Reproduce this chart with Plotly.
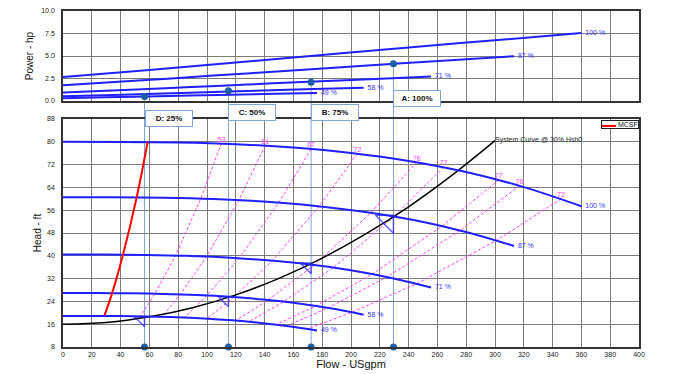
import plotly.graph_objects as go

# ------------------------------------------------------------------ data
speed_labels = ["100 %", "87 %", "71 %", "58 %", "49 %"]

# Head curves (flow USgpm, head ft)
flow_100 = [0, 40, 80, 120, 160, 200, 240, 280, 320, 360]
head_100 = [80.0, 79.97, 79.75, 79.16, 78.0, 76.1, 73.3, 69.4, 64.1, 57.4]
flow_87 = [0, 34.8, 69.6, 104.4, 139.2, 174.0, 208.8, 243.6, 278.4, 313.2]
head_87 = [60.55, 60.53, 60.36, 59.92, 59.04, 57.6, 55.48, 52.53, 48.52, 43.45]
flow_71 = [0, 28.4, 56.8, 85.2, 113.6, 142.0, 170.4, 198.8, 227.2, 255.6]
head_71 = [40.5, 40.45, 40.3, 40.0, 39.4, 38.4, 37.0, 35.0, 32.3, 28.9]
flow_58 = [0, 23.2, 46.4, 69.6, 92.8, 116.0, 139.2, 162.4, 185.6, 208.8]
head_58 = [26.95, 26.93, 26.85, 26.63, 26.24, 25.6, 24.66, 23.35, 21.56, 19.31]
flow_49 = [0, 19.6, 39.2, 58.8, 78.4, 98.0, 117.6, 137.2, 156.8, 176.4]
head_49 = [18.9, 18.9, 18.85, 18.7, 18.45, 18.0, 17.35, 16.45, 15.25, 13.8]

# Power curves (flow USgpm, power hp)
pflow_100 = [0, 60, 120, 180, 240, 300, 360]
power_100 = [2.66, 3.45, 4.28, 5.12, 5.95, 6.75, 7.56]
pflow_87 = [0, 52.2, 104.4, 156.6, 208.8, 261.0, 313.2]
power_87 = [1.75, 2.27, 2.82, 3.37, 3.92, 4.44, 4.98]
pflow_71 = [0, 42.6, 85.2, 127.8, 170.4, 213.0, 255.6]
power_71 = [0.95, 1.23, 1.53, 1.83, 2.13, 2.42, 2.71]
pflow_58 = [0, 34.8, 69.6, 104.4, 139.2, 174.0, 208.8]
power_58 = [0.52, 0.67, 0.84, 1.0, 1.16, 1.32, 1.47]
pflow_49 = [0, 29.4, 58.8, 88.2, 117.6, 147.0, 176.4]
power_49 = [0.31, 0.41, 0.51, 0.6, 0.7, 0.8, 0.89]

# System curve
sys_flow = [0, 30, 60, 90, 120, 150, 180, 210, 240, 270, 300]
sys_head = [16.0, 16.6, 18.6, 21.8, 26.3, 32.1, 39.2, 47.6, 57.2, 68.2, 80.4]
sys_label = "System Curve @ 30% Hsh0"

# MCSF
mcsf_flow = [28.8, 34.1, 41.7, 51.2, 58.8]
mcsf_head = [19.0, 26.9, 40.5, 60.6, 80.0]

# Iso-efficiency lines
eff_labels = ["53", "61", "67", "72", "76", "77", "77", "76", "72"]
eff_flows = [
    [110.0, 95.7, 78.1, 63.8, 53.9],
    [140.4, 122.1, 99.7, 81.4, 68.8],
    [172.3, 149.9, 122.3, 99.9, 84.4],
    [204.5, 177.9, 145.2, 118.6, 100.2],
    [245.7, 213.8, 174.4, 142.5, 120.4],
    [264.2, 229.9, 187.6, 153.2, 129.5],
    [302.5, 263.2, 214.8, 175.5, 148.2],
    [317.0, 275.8, 225.1, 183.9, 155.3],
    [346.0, 301.0, 245.7, 200.7, 169.5],
]
eff_heads = [
    [79.4, 60.1, 40.0, 26.7, 18.8],
    [78.7, 59.5, 39.7, 26.5, 18.6],
    [77.5, 58.7, 39.1, 26.1, 18.4],
    [75.9, 57.4, 38.2, 25.5, 18.0],
    [72.8, 55.1, 36.7, 24.5, 17.4],
    [71.1, 53.8, 35.8, 23.9, 17.0],
    [66.6, 50.4, 33.6, 22.4, 15.9],
    [64.6, 48.9, 32.6, 21.7, 15.4],
    [60.0, 45.4, 30.2, 20.2, 14.3],
]

# Operating points
op_labels = ["A: 100%", "B: 75%", "C: 50%", "D: 25%"]
op_flow = [229.5, 172.3, 114.9, 56.6]
op_head = [54.2, 37.5, 25.6, 18.6]
op_power = [4.15, 2.07, 1.13, 0.5]

# ------------------------------------------------------------------ layout constants
W, H = 700, 374
ML, MR, MT, MB = 63, 61, 11, 27
PW, PH = W - ML - MR, H - MT - MB
bot_dom = [0, 228 / PH]
top_dom = [(347 - 101) / PH, 1]
X_RANGE = [0, 400]
HY_RANGE = [8, 88]
PY_RANGE = [0, 10]

BLUE = "#1f1fff"
LBL_BLUE = "#3535ff"
MAG = "#ff40ff"
OPLINE = "#7fa6d6"
DOT = "#1d5ea8"
FONT = "Liberation Sans, Arial, sans-serif"

fig = go.Figure()

head_sets = [(flow_100, head_100), (flow_87, head_87), (flow_71, head_71),
             (flow_58, head_58), (flow_49, head_49)]
power_sets = [(pflow_100, power_100), (pflow_87, power_87), (pflow_71, power_71),
              (pflow_58, power_58), (pflow_49, power_49)]

# iso-efficiency dashed lines
for lab, fx, hy in zip(eff_labels, eff_flows, eff_heads):
    fig.add_trace(go.Scatter(
        x=fx, y=hy, mode="lines+text", xaxis="x", yaxis="y",
        line=dict(color=MAG, width=1, dash="3px,2px"),
        text=[lab] + [""] * (len(fx) - 1), textposition="top center",
        textfont=dict(color=MAG, size=7, family=FONT),
        cliponaxis=False, showlegend=False, hoverinfo="skip"))

# system curve
fig.add_trace(go.Scatter(
    x=sys_flow, y=sys_head, mode="lines+text", xaxis="x", yaxis="y",
    line=dict(color="black", width=1.5, shape="spline"),
    text=[""] * (len(sys_flow) - 1) + [sys_label], textposition="middle right",
    textfont=dict(color="#222", size=7, family=FONT),
    cliponaxis=False, showlegend=False))

# head curves
for lab, (fx, hy) in zip(speed_labels, head_sets):
    fig.add_trace(go.Scatter(
        x=fx, y=hy, mode="lines+text", xaxis="x", yaxis="y",
        line=dict(color=BLUE, width=2, shape="spline"),
        text=[""] * (len(fx) - 1) + ["  " + lab], textposition="middle right",
        textfont=dict(color=LBL_BLUE, size=7, family=FONT),
        cliponaxis=False, showlegend=False))

# MCSF
fig.add_trace(go.Scatter(
    x=mcsf_flow, y=mcsf_head, mode="lines", xaxis="x", yaxis="y",
    line=dict(color="#ff0000", width=2, shape="spline"), name="MCSF",
    showlegend=False))

# power curves
for lab, (fx, py) in zip(speed_labels, power_sets):
    fig.add_trace(go.Scatter(
        x=fx, y=py, mode="lines+text", xaxis="x2", yaxis="y2",
        line=dict(color=BLUE, width=2, shape="spline"),
        text=[""] * (len(fx) - 1) + ["  " + lab], textposition="middle right",
        textfont=dict(color=LBL_BLUE, size=7, family=FONT),
        cliponaxis=False, showlegend=False))

# operating-point triangles (right-angle corner placed on the point)
px_x = PW / (X_RANGE[1] - X_RANGE[0])
px_y = (bot_dom[1] - bot_dom[0]) * PH / (HY_RANGE[1] - HY_RANGE[0])
tri_size = [20, 12, 11, 11]
tri_x = [q - 0.6 * (s / 2) / px_x for q, s in zip(op_flow, tri_size)]
tri_y = [h - 0.6 * (s / 2) / px_y for h, s in zip(op_head, tri_size)]
fig.add_trace(go.Scatter(
    x=tri_x, y=tri_y, mode="markers", xaxis="x", yaxis="y",
    marker=dict(symbol="triangle-ne-open", size=tri_size, color=BLUE,
                line=dict(width=1.5, color=BLUE)),
    showlegend=False, cliponaxis=False, hoverinfo="skip"))

# dots
fig.add_trace(go.Scatter(
    x=op_flow, y=[HY_RANGE[0]] * len(op_flow), mode="markers", xaxis="x", yaxis="y",
    marker=dict(color=DOT, size=7), cliponaxis=False, showlegend=False))
fig.add_trace(go.Scatter(
    x=op_flow, y=op_power, mode="markers", xaxis="x2", yaxis="y2",
    marker=dict(color=DOT, size=7), cliponaxis=False, showlegend=False))

# vertical operating lines and label boxes
def top_paper(p):
    return top_dom[0] + (p - PY_RANGE[0]) / (PY_RANGE[1] - PY_RANGE[0]) * (top_dom[1] - top_dom[0])

shapes = []
for q, p in zip(op_flow, op_power):
    shapes.append(dict(type="line", xref="x", yref="paper", x0=q, x1=q,
                       y0=bot_dom[0], y1=top_paper(p), layer="below",
                       line=dict(color=OPLINE, width=1)))

box_y = [0.740, 0.698, 0.698, 0.681]
annotations = []
for lab, q, by in zip(op_labels, op_flow, box_y):
    annotations.append(dict(
        text="<b>" + lab + "</b>", x=q, xref="x", xanchor="left",
        y=by, yref="paper", yanchor="middle", showarrow=False,
        bordercolor=OPLINE, borderwidth=1, borderpad=1, bgcolor="white",
        width=44, height=13, font=dict(size=8, color="#111", family=FONT)))

# legend box
annotations.append(dict(
    text='<span style="color:#ff0000">▬▬</span> MCSF', x=1, xref="paper",
    xanchor="right", y=bot_dom[1], yref="paper", yanchor="top", yshift=-1,
    showarrow=False, bordercolor="#222", borderwidth=1, borderpad=0,
    bgcolor="white", font=dict(size=7, color="#111", family=FONT)))

axis_common = dict(
    showgrid=True, gridcolor="#7c7c7c", gridwidth=1, zeroline=False,
    showline=True, linecolor="#333", linewidth=1.5, mirror=True,
    ticks="", tickfont=dict(size=7, color="#222", family=FONT),
)

fig.update_layout(
    width=W, height=H, margin=dict(l=ML, r=MR, t=MT, b=MB, autoexpand=False),
    paper_bgcolor="white", plot_bgcolor="white", showlegend=False,
    font=dict(family=FONT),
    xaxis=dict(axis_common, range=X_RANGE, dtick=20, tick0=0, anchor="y",
               domain=[0, 1], ticklabelstandoff=0,
               title=dict(text="Flow - USgpm", font=dict(size=11, color="#111"),
                          standoff=3)),
    yaxis=dict(axis_common, range=HY_RANGE, dtick=8, tick0=8, anchor="x",
               domain=bot_dom, ticklabelstandoff=5,
               title=dict(text="Head - ft", font=dict(size=10, color="#111"),
                          standoff=4)),
    xaxis2=dict(axis_common, range=X_RANGE, dtick=20, tick0=0, anchor="y2",
                domain=[0, 1], showticklabels=False),
    yaxis2=dict(axis_common, range=PY_RANGE, dtick=2.5, tick0=0, anchor="x2",
                domain=top_dom, tickformat=".1f", ticklabelstandoff=5,
                title=dict(text="Power - hp", font=dict(size=10, color="#111"),
                           standoff=6)),
    shapes=shapes, annotations=annotations,
)

fig.write_html("out.html", config={"displayModeBar": False},
               post_script="document.body.style.margin='0px';document.body.style.overflow='hidden';")
